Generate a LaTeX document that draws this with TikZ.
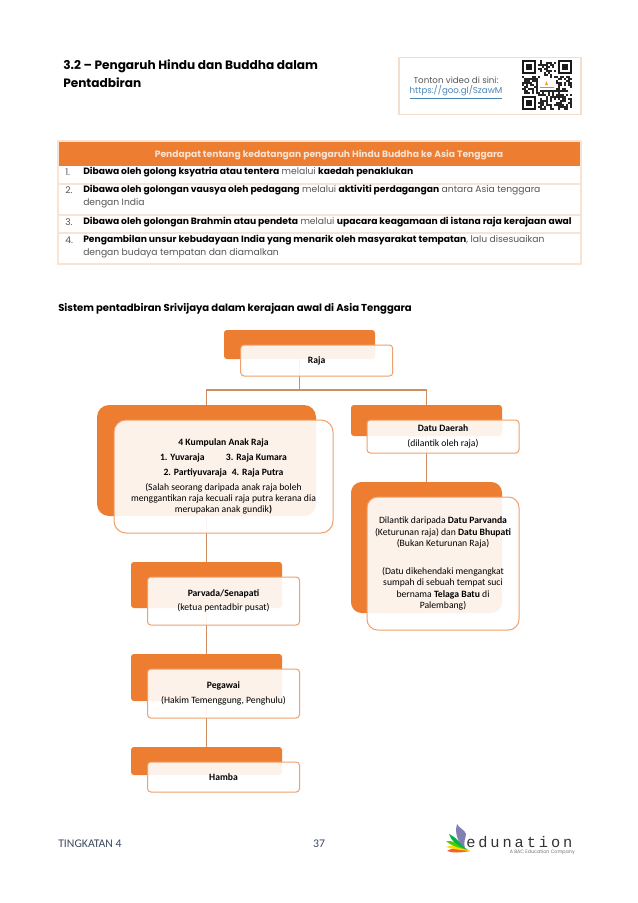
\documentclass[tikz,border=0pt]{standalone}
\usepackage{fontspec}
\setmainfont{Carlito}
\newfontfamily\gothic{Poppins}
\newfontfamily\monolog{Liberation Mono}[LetterSpace=19]
\definecolor{orng}{HTML}{ED7D31}
\definecolor{bord}{HTML}{EFA06C}
\definecolor{conn}{HTML}{D08C62}
\definecolor{pale}{HTML}{F9E3D3}
\definecolor{qrbord}{HTML}{F3DFCF}
\definecolor{gtext}{HTML}{555555}
\definecolor{foot}{HTML}{3B4A5E}
\definecolor{linkc}{HTML}{4A86B8}
\def\u{0.75pt}
\tikzset{
  backbox/.style={fill=orng,inner sep=0pt},
  frontbox/.style={draw=bord,line width=0.75pt,fill=white,fill opacity=.9,text opacity=1,inner sep=0pt,align=center,font=\fontsize{7.25pt}{8.4pt}\selectfont,text=black},
  link/.style={draw=conn,line width=0.9pt},
  rowtxt/.style={anchor=west,inner sep=0pt,font=\gothic\fontsize{6.88pt}{8pt}\selectfont,text=gtext},
  rowrule/.style={draw=pale,line width=0.8pt},
}
\newcommand{\hb}[1]{\textbf{\textcolor{black}{#1}}}
\begin{document}
\begin{tikzpicture}[x=0.75pt,y=-0.75pt]
\useasboundingbox (0,0) rectangle (638,903);
\fill[white] (0,0) rectangle (638,903);
% title
\node[anchor=west,inner sep=0pt,font=\gothic\bfseries\fontsize{9.1pt}{10pt}\selectfont] (t1) at (63,66.5) {3.2 – Pengaruh Hindu dan Buddha dalam};
\node[anchor=west,inner sep=0pt,font=\gothic\bfseries\fontsize{9.1pt}{10pt}\selectfont] (t2) at (63,83) {Pentadbiran};
% video box
\node[draw=qrbord,line width=0.8pt,fill=white,minimum width=182*\u,minimum height=57*\u,inner sep=0pt] (vid) at (490,86) {};
\node[inner sep=0pt,font=\gothic\fontsize{6.5pt}{8pt}\selectfont,text=gtext] (v1) at (456,80) {Tonton video di sini:};
\node[inner sep=0pt,font=\gothic\fontsize{6.5pt}{8pt}\selectfont,text=linkc] (v2) at (456,92) {\underline{https://goo.gl/SzawM}};
% QR
\begin{scope}[shift={(522,60)}]
\pgfmathsetseed{11}
\foreach \i in {0,...,24}{\foreach \j in {0,...,24}{
  \pgfmathsetmacro{\rv}{rnd}
  \pgfmathparse{(\rv<0.52 && !(\i<8 && \j<8) && !(\i>16 && \j<8) && !(\i<8 && \j>16) && !(\i>7 && \i<17 && \j>8 && \j<15))?1:0}
  \ifnum\pgfmathresult=1
    \fill[black!85] (\i*2,\j*2) rectangle ++(2.05,2.05);
  \fi
}}
\foreach \a/\b in {0/0,36/0,0/36}{
  \fill[black!90] (\a,\b) rectangle ++(14,14);
  \fill[white] (\a+2,\b+2) rectangle ++(10,10);
  \fill[black!90] (\a+4,\b+4) rectangle ++(6,6);
}
\fill[orng!70!yellow] (24.5,21) -- (26,25) -- (23,25) -- cycle;
\fill[black!40] (18,27) rectangle (32,27.8);
\end{scope}
% table
\fill[orng] (58,141) rectangle (581,165.5);
\node[inner sep=0pt,text=pale,font=\gothic\bfseries\fontsize{6.88pt}{8pt}\selectfont] (th) at (329,155) {Pendapat tentang kedatangan pengaruh Hindu Buddha ke Asia Tenggara};
\draw[rowrule] (58,141) rectangle (581,264);
\draw[rowrule] (58,184) -- (581,184);
\draw[rowrule] (58,215) -- (581,215);
\draw[rowrule] (58,233) -- (581,233);
\node[rowtxt] (n1) at (65,172.5) {1.};
\node[rowtxt] (r1) at (83,172.5) {\hb{Dibawa oleh golong ksyatria atau tentera} melalui \hb{kaedah penaklukan}};
\node[rowtxt] (n2) at (65,190) {2.};
\node[rowtxt] (r2) at (83,190) {\hb{Dibawa oleh golongan vausya oleh pedagang} melalui \hb{aktiviti perdagangan} antara Asia tenggara};
\node[rowtxt] (r2b) at (83,203.5) {dengan India};
\node[rowtxt] (n3) at (65,222) {3.};
\node[rowtxt] (r3) at (83,222) {\hb{Dibawa oleh golongan Brahmin atau pendeta} melalui \hb{upacara keagamaan di istana raja kerajaan awal}};
\node[rowtxt] (n4) at (65,240.5) {4.};
\node[rowtxt] (r4) at (83,240.5) {\hb{Pengambilan unsur kebudayaan India yang menarik oleh masyarakat tempatan}, lalu disesuaikan};
\node[rowtxt] (r4b) at (83,253) {dengan budaya tempatan dan diamalkan};
% section heading
\node[anchor=west,inner sep=0pt,font=\gothic\bfseries\fontsize{7.55pt}{9pt}\selectfont] (sec) at (58,309) {Sistem pentadbiran Srivijaya dalam kerajaan awal di Asia Tenggara};
% back boxes
\node[backbox,rounded corners=2.2pt,minimum width=151*\u,minimum height=29*\u] (rajaB) at (299.5,344.5) {};
\node[backbox,rounded corners=9pt,minimum width=219*\u,minimum height=111*\u] (anakB) at (206.5,460.5) {};
\node[backbox,rounded corners=2.2pt,minimum width=151*\u,minimum height=31*\u] (datuB) at (426.5,420.5) {};
\node[backbox,rounded corners=8pt,minimum width=151*\u,minimum height=131*\u] (lantikB) at (426.5,547.5) {};
\node[backbox,rounded corners=2.2pt,minimum width=151*\u,minimum height=46*\u] (parvB) at (206.5,585) {};
\node[backbox,rounded corners=2.2pt,minimum width=151*\u,minimum height=47*\u] (pegB) at (206.5,677.5) {};
\node[backbox,rounded corners=2.2pt,minimum width=151*\u,minimum height=28*\u] (hambaB) at (206.5,761) {};
% connectors
\coordinate (jn) at (299.5,390);
\draw[link] (rajaB.south) -- (jn);
\draw[link] (anakB.north) |- (jn);
\draw[link] (datuB.north) |- (jn);
\draw[link] (anakB.south) -- (parvB.north);
\draw[link] (parvB.south) -- (pegB.north);
\draw[link] (pegB.south) -- (hambaB.north);
\draw[link] (datuB.south) -- (lantikB.north);
% front boxes
\node[frontbox,rounded corners=2.5pt,minimum width=152*\u,minimum height=31*\u] (raja) at (316.7,360.5) {\textbf{Raja}};
\node[frontbox,rounded corners=9pt,minimum width=219*\u,minimum height=113*\u] (anak) at (223.5,476.5) {\textbf{4 Kumpulan Anak Raja}\\[2.9pt]
 \textbf{1. Yuvaraja\hspace{2.2em}3. Raja Kumara}\\[2.9pt]
 \textbf{2. Partiyuvaraja\hspace{0.5em}4. Raja Putra}\\[2.2pt]
 (Salah seorang daripada anak raja boleh\\menggantikan raja kecuali raja putra kerana dia\\merupakan anak gundik\textbf{)}};
\node[frontbox,rounded corners=2.5pt,minimum width=152*\u,minimum height=33*\u] (datu) at (443,436.5) {\textbf{Datu Daerah}\\[2.5pt](dilantik oleh raja)};
\node[frontbox,rounded corners=8pt,minimum width=152*\u,minimum height=133*\u] (lantik) at (443,563.5) {Dilantik daripada \textbf{Datu Parvanda}\\(Keturunan raja) dan \textbf{Datu Bhupati}\\(Bukan Keturunan Raja)\\[13pt]
 (Datu dikehendaki mengangkat\\sumpah di sebuah tempat suci\\bernama \textbf{Telaga Batu} di\\Palembang)};
\node[frontbox,rounded corners=2.5pt,minimum width=152*\u,minimum height=48*\u] (parv) at (223.5,601) {\textbf{Parvada/Senapati}\\[2.5pt](ketua pentadbir pusat)};
\node[frontbox,rounded corners=2.5pt,minimum width=152*\u,minimum height=49*\u] (peg) at (223.5,693.5) {\textbf{Pegawai}\\[2.8pt](Hakim Temenggung, Penghulu)};
\node[frontbox,rounded corners=2.5pt,minimum width=152*\u,minimum height=30*\u] (hamba) at (223.5,777) {\textbf{Hamba}};
% footer
\node[anchor=west,inner sep=0pt,text=foot,font=\fontsize{8.8pt}{10pt}\selectfont] (f1) at (58,843.5) {TINGKATAN 4};
\node[inner sep=0pt,text=foot,font=\fontsize{8.8pt}{10pt}\selectfont] (f2) at (319,843.5) {37};
% logo
\fill[orng!80!red] (447,851) .. controls (455,846) and (462,848) .. (470,851) .. controls (460,853) and (452,853) .. (447,851);
\fill[yellow!80!orange] (446,847) .. controls (452,844) and (460,846) .. (470,851) .. controls (460,850) and (452,849) .. (446,847);
\fill[green!60!yellow!80!black] (446,841) .. controls (452,840) and (460,844) .. (468,850) .. controls (458,848) and (450,845) .. (446,841);
\fill[teal!60!green] (449,834) .. controls (454,836) and (460,842) .. (466,849) .. controls (458,846) and (451,841) .. (449,834);
\fill[blue!25!gray!80] (457,824) .. controls (459,828) and (465,830) .. (466,834) .. controls (466,838) and (463,841) .. (465,848) .. controls (459,843) and (454,835) .. (457,824);
\node[anchor=west,inner sep=0pt,text=black!80,font=\monolog\fontsize{11.5pt}{12pt}\selectfont] (lg) at (466,842) {edunation};
\node[anchor=east,inner sep=0pt,text=black!55,font=\fontsize{3.6pt}{4pt}\selectfont\gothic] (lg2) at (575,852.5) {A BAC Education Company};
\end{tikzpicture}
\end{document}
